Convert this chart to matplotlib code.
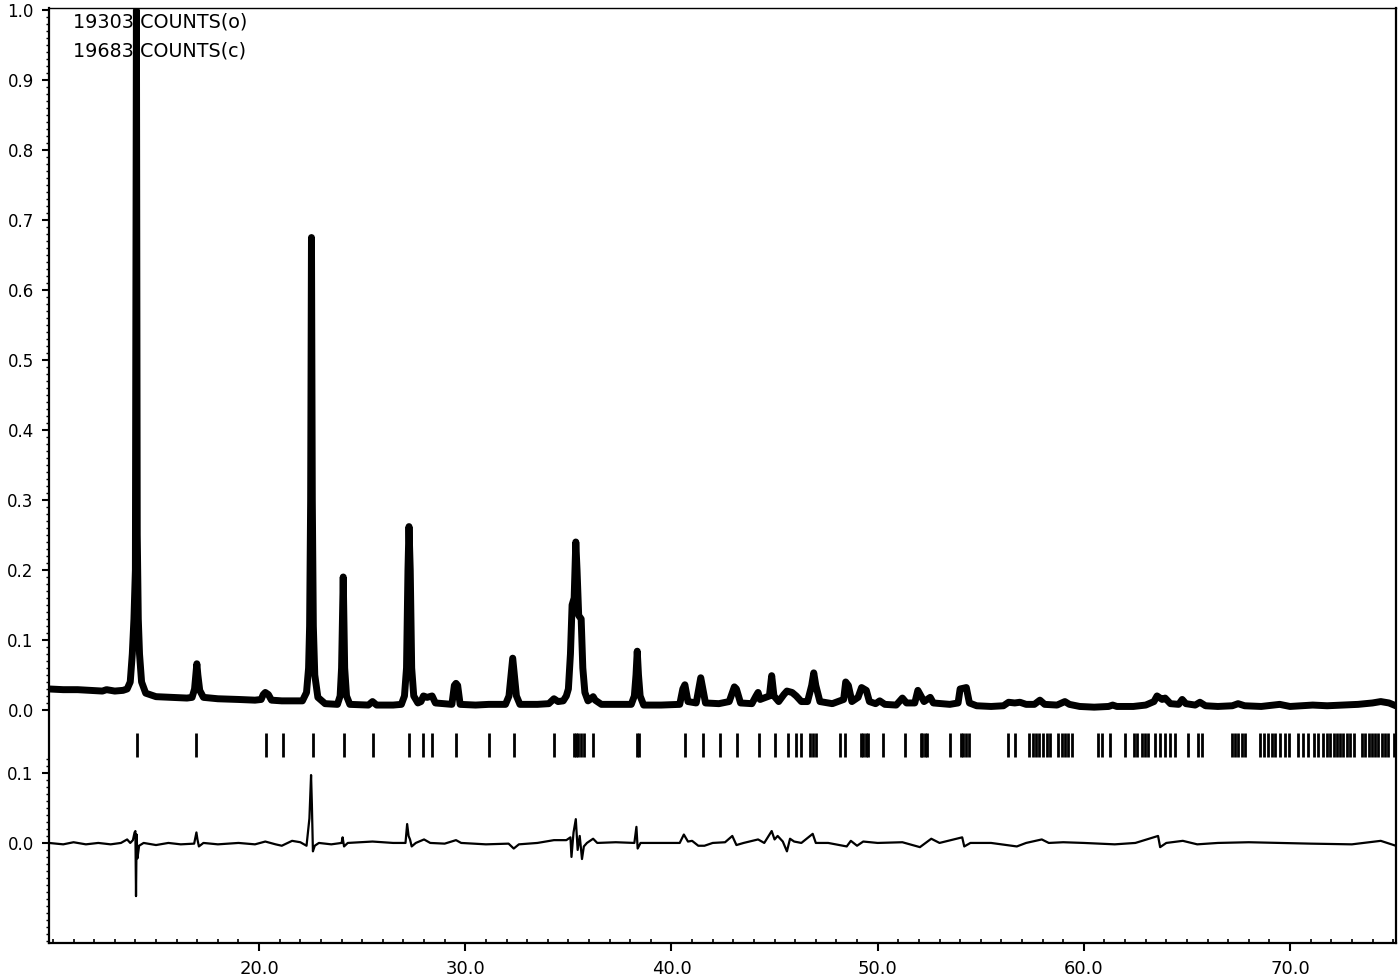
import numpy as np
import matplotlib
matplotlib.use("Agg")
import matplotlib.pyplot as plt
from matplotlib.ticker import FixedLocator

plt.rcParams['font.family'] = ['DejaVu Sans']

obs_points = [
    (9.81, 0.030), (10.5, 0.029), (11.2, 0.029), (11.8, 0.028), (12.4, 0.027), (12.6, 0.029),
    (13.0, 0.027), (13.4, 0.028), (13.6, 0.030), (13.75, 0.04), (13.85, 0.08), (13.93, 0.13),
    (14.0, 0.2), (14.05, 1.0), (14.09, 0.25), (14.14, 0.13), (14.2, 0.08), (14.3, 0.04),
    (14.5, 0.024), (15.0, 0.019), (15.8, 0.018), (16.5, 0.017), (16.75, 0.018), (16.87, 0.03),
    (16.93, 0.05), (16.98, 0.066), (17.03, 0.05), (17.12, 0.028), (17.3, 0.018), (18.0, 0.016),
    (19.0, 0.015), (19.8, 0.014), (20.1, 0.015), (20.2, 0.022), (20.3, 0.025), (20.45, 0.022),
    (20.6, 0.014), (21.1, 0.013), (21.6, 0.013), (22.1, 0.013), (22.3, 0.025), (22.4, 0.06),
    (22.45, 0.12), (22.5, 0.3), (22.54, 0.675), (22.58, 0.3), (22.63, 0.12), (22.7, 0.05),
    (22.85, 0.018), (23.2, 0.009), (23.8, 0.008), (23.93, 0.02), (24.0, 0.06), (24.08, 0.19),
    (24.15, 0.06), (24.24, 0.02), (24.4, 0.008), (25.3, 0.007), (25.5, 0.012), (25.7, 0.007),
    (26.5, 0.007), (26.9, 0.008), (27.05, 0.02), (27.15, 0.06), (27.22, 0.2), (27.27, 0.262),
    (27.33, 0.2), (27.4, 0.06), (27.5, 0.02), (27.7, 0.01), (27.85, 0.012), (27.97, 0.02),
    (28.15, 0.018), (28.39, 0.02), (28.55, 0.01), (29.35, 0.008), (29.47, 0.035), (29.55, 0.038),
    (29.63, 0.035), (29.75, 0.008), (30.5, 0.007), (31.14, 0.008), (31.95, 0.008), (32.12, 0.02),
    (32.22, 0.05), (32.3, 0.074), (32.38, 0.05), (32.48, 0.02), (32.65, 0.008), (33.5, 0.008),
    (34.05, 0.009), (34.3, 0.016), (34.5, 0.012), (34.75, 0.013), (34.9, 0.02), (35.0, 0.03),
    (35.1, 0.08), (35.18, 0.15), (35.28, 0.16), (35.36, 0.24), (35.42, 0.2), (35.5, 0.135),
    (35.62, 0.13), (35.7, 0.06), (35.8, 0.025), (35.95, 0.013), (36.1, 0.016), (36.2, 0.019),
    (36.3, 0.014), (36.6, 0.008), (37.5, 0.008), (38.05, 0.008), (38.2, 0.02), (38.28, 0.05),
    (38.34, 0.084), (38.4, 0.05), (38.48, 0.02), (38.65, 0.007), (39.5, 0.007), (40.4, 0.008),
    (40.55, 0.03), (40.65, 0.036), (40.8, 0.012), (41.2, 0.01), (41.32, 0.03), (41.42, 0.046),
    (41.52, 0.03), (41.65, 0.01), (42.3, 0.009), (42.8, 0.012), (43.05, 0.033), (43.15, 0.03),
    (43.35, 0.01), (43.9, 0.009), (44.1, 0.02), (44.2, 0.025), (44.3, 0.015), (44.75, 0.02),
    (44.86, 0.049), (44.97, 0.02), (45.2, 0.012), (45.45, 0.022), (45.6, 0.027), (45.85, 0.025),
    (46.05, 0.02), (46.3, 0.012), (46.6, 0.012), (46.8, 0.035), (46.9, 0.053), (47.0, 0.035),
    (47.2, 0.012), (47.8, 0.009), (48.35, 0.015), (48.45, 0.04), (48.58, 0.035), (48.75, 0.012),
    (49.05, 0.018), (49.22, 0.032), (49.45, 0.028), (49.6, 0.012), (49.9, 0.009), (50.1, 0.013),
    (50.35, 0.008), (50.9, 0.007), (51.2, 0.017), (51.4, 0.01), (51.8, 0.01), (51.95, 0.028),
    (52.1, 0.02), (52.25, 0.012), (52.55, 0.018), (52.7, 0.01), (53.5, 0.008), (53.9, 0.01),
    (54.0, 0.03), (54.3, 0.032), (54.45, 0.01), (54.8, 0.006), (55.5, 0.005), (56.1, 0.006),
    (56.35, 0.011), (56.65, 0.01), (56.9, 0.011), (57.2, 0.008), (57.6, 0.008), (57.87, 0.014),
    (58.1, 0.008), (58.7, 0.007), (59.08, 0.012), (59.3, 0.008), (59.8, 0.005), (60.5, 0.004),
    (61.2, 0.005), (61.4, 0.007), (61.6, 0.005), (62.4, 0.005), (63.0, 0.007), (63.4, 0.012),
    (63.55, 0.02), (63.8, 0.015), (63.94, 0.017), (64.2, 0.009), (64.6, 0.008), (64.77, 0.015),
    (64.95, 0.009), (65.4, 0.007), (65.63, 0.011), (65.9, 0.006), (66.5, 0.005), (67.2, 0.006),
    (67.48, 0.009), (67.8, 0.006), (68.6, 0.005), (69.5, 0.008), (70.0, 0.005), (71.1, 0.007),
    (71.8, 0.006), (72.5, 0.007), (73.3, 0.008), (74.0, 0.01), (74.4, 0.012), (74.8, 0.01),
    (75.13, 0.006),
]

# difference curve (obs - calc)
diff_points = [
    (9.81, 0.0), (10.5, -0.002), (11.0, 0.001), (11.6, -0.002), (12.2, 0.0), (12.8, -0.002),
    (13.3, 0.0), (13.6, 0.005), (13.75, 0.0), (13.88, 0.004), (13.96, 0.015), (14.0, 0.017),
    (14.03, -0.076), (14.06, 0.012), (14.1, -0.022), (14.18, -0.004), (14.4, 0.0), (15.0, -0.003),
    (15.6, 0.0), (16.2, -0.002), (16.85, -0.001), (16.96, 0.015), (17.01, 0.005), (17.08, -0.005),
    (17.3, 0.0), (18.0, -0.002), (19.0, 0.0), (19.8, -0.002), (20.3, 0.002), (20.8, -0.002),
    (21.1, -0.004), (21.6, 0.003), (22.0, 0.001), (22.3, -0.004), (22.44, 0.035), (22.52, 0.097),
    (22.56, 0.055), (22.61, -0.012), (22.7, -0.004), (22.9, 0.0), (23.5, -0.002), (24.0, 0.0),
    (24.05, 0.008), (24.12, -0.005), (24.3, 0.0), (25.5, 0.002), (26.5, 0.0), (27.1, 0.0),
    (27.18, 0.027), (27.25, 0.01), (27.32, 0.005), (27.4, -0.005), (27.6, 0.0), (28.0, 0.005),
    (28.3, 0.0), (29.0, -0.001), (29.55, 0.004), (29.8, 0.0), (31.0, -0.002), (32.1, -0.001),
    (32.35, -0.008), (32.6, -0.002), (33.5, 0.0), (34.3, 0.004), (34.9, 0.004), (35.1, 0.008),
    (35.15, -0.02), (35.25, 0.015), (35.36, 0.034), (35.45, -0.01), (35.55, 0.01), (35.66, -0.023),
    (35.75, -0.005), (35.9, 0.0), (36.2, 0.006), (36.4, 0.0), (37.3, 0.001), (38.2, 0.0),
    (38.3, 0.023), (38.36, -0.008), (38.5, 0.0), (39.5, 0.0), (40.4, 0.0), (40.6, 0.012),
    (40.8, 0.002), (41.0, 0.003), (41.3, -0.004), (41.6, -0.004), (42.0, 0.0), (42.6, 0.001),
    (42.95, 0.01), (43.15, -0.003), (43.5, 0.0), (44.2, 0.005), (44.5, 0.0), (44.86, 0.017),
    (45.0, 0.005), (45.15, 0.01), (45.4, 0.002), (45.6, -0.012), (45.75, 0.006), (45.95, 0.002),
    (46.3, 0.0), (46.85, 0.013), (47.0, 0.0), (47.6, 0.0), (48.5, -0.005), (48.7, 0.003),
    (49.0, -0.004), (49.3, 0.002), (50.0, 0.0), (51.2, 0.001), (52.05, -0.006), (52.6, 0.006),
    (53.0, 0.0), (54.1, 0.008), (54.2, -0.005), (54.5, 0.0), (55.5, 0.0), (56.75, -0.005),
    (57.2, 0.0), (57.96, 0.005), (58.3, 0.0), (59.0, 0.001), (60.0, 0.0), (61.5, -0.002),
    (62.5, 0.0), (63.6, 0.01), (63.7, -0.006), (64.0, 0.0), (64.8, 0.003), (65.5, -0.002),
    (66.5, 0.0), (68.0, 0.001), (69.5, 0.0), (71.0, -0.001), (73.0, -0.002), (74.4, 0.003),
    (75.13, -0.004),
]

# Bragg reflection positions
reflections = [
    14.06, 16.93, 20.33, 21.14, 22.59, 24.13, 25.50, 27.29, 27.97, 28.39, 29.55, 31.14, 32.35,
    34.32, 35.25, 35.38, 35.49, 35.62, 35.75, 36.18, 38.32, 38.42, 40.68, 41.52, 42.37, 43.17,
    44.24, 45.00, 45.65, 46.06, 46.30, 46.74, 46.86, 46.99, 48.16, 48.40, 49.18, 49.29, 49.42,
    49.53, 50.26, 51.31, 52.08, 52.17, 52.29, 52.40, 53.50, 54.02, 54.14, 54.28, 54.41, 56.33,
    56.65, 57.35, 57.51, 57.67, 57.83, 58.00, 58.19, 58.35, 58.76, 58.92, 59.08, 59.24, 59.41,
    60.68, 60.86, 61.27, 61.99, 62.43, 62.56, 62.80, 62.96, 63.12, 63.45, 63.69, 63.94, 64.18,
    64.42, 65.07, 65.55, 65.72, 67.17, 67.33, 67.49, 67.66, 67.82, 68.55, 68.74, 68.95, 69.12,
    69.28, 69.52, 69.77, 69.93, 70.41, 70.65, 70.89, 71.14, 71.38, 71.59, 71.79, 71.95, 72.11,
    72.27, 72.43, 72.59, 72.76, 72.92, 73.08, 73.48, 73.65, 73.81, 73.97, 74.13, 74.29, 74.45,
    74.61, 74.77, 75.02,
]

counts_labels = ["19303 COUNTS(o)", "19683 COUNTS(c)"]

diff_offset = -0.19
tick_row = (-0.067, -0.033)

obs_x, obs_y = np.array(obs_points).T
diff_x, diff_y = np.array(diff_points).T

fig = plt.figure(figsize=(14, 9.8), dpi=100)
ax = fig.add_axes([0.035, 0.0378, 0.962, 0.954])

# observed (thick band of crosses) and calculated (thin line) profiles
ax.plot(obs_x, obs_y, color='black', lw=5.0, solid_joinstyle='round', solid_capstyle='round')
ax.plot(obs_x, obs_y, color='black', lw=1.2)
ax.plot(diff_x, diff_y + diff_offset, color='black', lw=1.6)
ax.vlines(reflections, tick_row[0], tick_row[1], color='black', lw=2.0)

for i, txt in enumerate(counts_labels):
    ax.text(10.97, 0.983 - i * 0.042, txt, ha='left', va='center', fontsize=13.8)

ax.set_xlim(9.81, 75.13)
ax.set_ylim(-0.3329, 1.0029)

# x axis
ax.set_xticks([20, 30, 40, 50, 60, 70])
ax.set_xticklabels(["20.0", "30.0", "40.0", "50.0", "60.0", "70.0"])
ax.xaxis.set_minor_locator(FixedLocator(np.arange(10, 76, 1.0)))
ax.tick_params(axis='x', which='major', direction='out', length=6, width=1.5, pad=6, labelsize=13)
ax.tick_params(axis='x', which='minor', direction='in', length=3, width=1.2)

# y axis: upper profile scale plus offset difference scale
upper = np.round(np.arange(0, 1.01, 0.1), 2)
yticks = list(upper) + [diff_offset + 0.1, diff_offset]
ylabels = [f"{v:.1f}" for v in upper] + ["0.1", "0.0"]
ax.set_yticks(yticks)
ax.set_yticklabels(ylabels)
minor_up = np.arange(0, 1.001, 0.01)
minor_low = diff_offset + np.arange(-0.14, 0.121, 0.01)
ax.yaxis.set_minor_locator(FixedLocator(np.concatenate([minor_up, minor_low])))
ax.tick_params(axis='y', which='major', direction='out', length=5, width=1.5, pad=6, labelsize=12)
ax.tick_params(axis='y', which='minor', direction='out', length=2.5, width=1.0)

for side in ['left', 'bottom', 'right']:
    ax.spines[side].set_linewidth(1.6)
ax.spines['top'].set_linewidth(1.0)

fig.savefig("out.png", dpi=100)
